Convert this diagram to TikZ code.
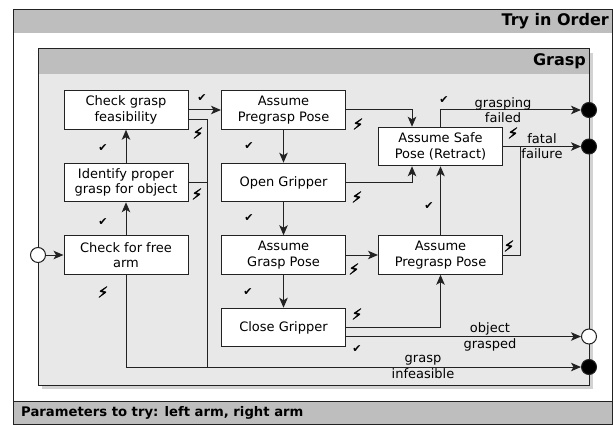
\documentclass[tikz,border=0pt]{standalone}
\usepackage{fontspec}
\setmainfont{DejaVu Sans}
\newfontfamily\boltfont[FakeBold=3]{DejaVu Sans}
\usetikzlibrary{arrows.meta}
\definecolor{hdr}{HTML}{BEBEBE}
\definecolor{bodyc}{HTML}{E8E8E8}
\definecolor{shd}{HTML}{D2D2D2}
\definecolor{ink}{HTML}{222222}
\begin{document}
\begin{tikzpicture}[x=1pt,y=-1pt,
  box/.style={draw=ink, fill=white, line width=1pt, minimum width=124pt, minimum height=38.5pt, inner sep=0pt, align=center, font=\fontsize{13}{15.3}\selectfont},
  ln/.style={draw=ink, line width=1pt},
  arr/.style={ln, -{Stealth[length=10pt,width=8.5pt,inset=2.5pt]}},
  ok/.style={font=\fontsize{11}{11}\selectfont\bfseries, inner sep=0pt},
  bolt/.style={font=\fontsize{15}{15}\boltfont, inner sep=0pt},
  lbl/.style={align=center, font=\fontsize{13}{15.3}\selectfont, inner sep=0pt},
  hd/.style={font=\fontsize{16}{16}\selectfont\bfseries, inner sep=0pt},
  ft/.style={font=\fontsize{13.2}{14}\selectfont\bfseries, inner sep=0pt},
  endc/.style={circle, draw=ink, line width=1pt, minimum size=15pt, inner sep=0pt},
]
\useasboundingbox (0,0) rectangle (613,425);
% outer container
\fill[white] (13,10) rectangle (612,424);
\fill[hdr] (13,10) rectangle (612,33);
\fill[hdr] (13,401) rectangle (612,424);
\draw[ink, line width=1pt] (13,401) -- (612,401);
\draw[ink, line width=1pt] (13,10) rectangle (612,424);
\node[hd, anchor=east] (ttl) at (609,21.5) {Try in Order};
\node[ft, anchor=west] (par) at (21,412.5) {Parameters to try: left arm, right arm};
% inner container
\fill[shd] (42,53) rectangle (593,389);
\fill[bodyc] (38,49) rectangle (589,385);
\fill[hdr] (38,49) rectangle (589,74);
\draw[ink, line width=1pt] (38,49) rectangle (589,385);
\node[hd, anchor=east] (gtl) at (586,61.5) {Grasp};
% states
\node[box] (feas) at (126,110) {Check grasp\\feasibility};
\node[box] (ident) at (126,182.5) {Identify proper\\grasp for object};
\node[box] (free) at (126,255) {Check for free\\arm};
\node[box] (pre1) at (283.5,110) {Assume\\Pregrasp Pose};
\node[box] (open) at (283.5,182.5) {Open Gripper};
\node[box] (gpose) at (283.5,255) {Assume\\Grasp Pose};
\node[box] (close) at (283.5,327.5) {Close Gripper};
\node[box] (safe) at (440.5,146.5) {Assume Safe\\Pose (Retract)};
\node[box] (pre2) at (440.5,255) {Assume\\Pregrasp Pose};
% terminals
\node[endc, fill=white] (init) at (38,255) {};
\node[endc, fill=black] (gfail) at (589,110) {};
\node[endc, fill=black] (fatal) at (589,146.5) {};
\node[endc, fill=white] (ogr) at (589,336.5) {};
\node[endc, fill=black] (infeas) at (589,367) {};
\coordinate (bus) at (207,367);
\coordinate (join) at (520,146.5);
% connectors
\draw[arr] (init) -- (free);
\draw[arr] (free) -- (ident);
\draw[arr] (ident) -- (feas);
\draw[arr] (feas) -- (pre1);
\draw[ln] ([yshift=-10pt]feas.east) -| (bus);
\draw[ln] (ident.east) -| (bus);
\draw[arr] (free.south) |- (infeas);
\draw[arr] (pre1) -- (open);
\draw[arr] (open) -- (gpose);
\draw[arr] (gpose) -- (close);
\draw[arr] (pre1.east) -| ([xshift=-28.5pt]safe.north);
\draw[arr] (open.east) -| ([xshift=-28.5pt]safe.south);
\draw[arr] (gpose) -- (pre2);
\draw[arr] (close.east) -| (pre2.south);
\draw[arr] ([yshift=-9pt]close.east) -- (ogr);
\draw[arr] (pre2) -- (safe);
\draw[arr] (safe.north) |- (gfail);
\draw[arr] (safe) -- (fatal);
\draw[ln] (pre2.east) -| (join);
% edge labels
\node[lbl] (l1) at (503,110.5) {grasping\\failed};
\node[lbl] (l2) at (542,146.5) {fatal\\failure};
\node[lbl] (l3) at (490,337) {object\\grasped};
\node[lbl] (l4) at (423,367) {grasp\\infeasible};
% success marks
\foreach \p [count=\i] in {(103,222),(103,148),(202,98),(249,146),(249,218),(248,292),(357,349),(429,206),(444,100)}
  \node[ok] (ok\i) at \p {✔};
% failure marks
\foreach \p [count=\i] in {(198,133),(197,194),(103,292),(358,124),(357,197),(354,269),(357,314),(513,133),(509,246)}
  \node[bolt] (fail\i) at \p {⚡};
\end{tikzpicture}
\end{document}
